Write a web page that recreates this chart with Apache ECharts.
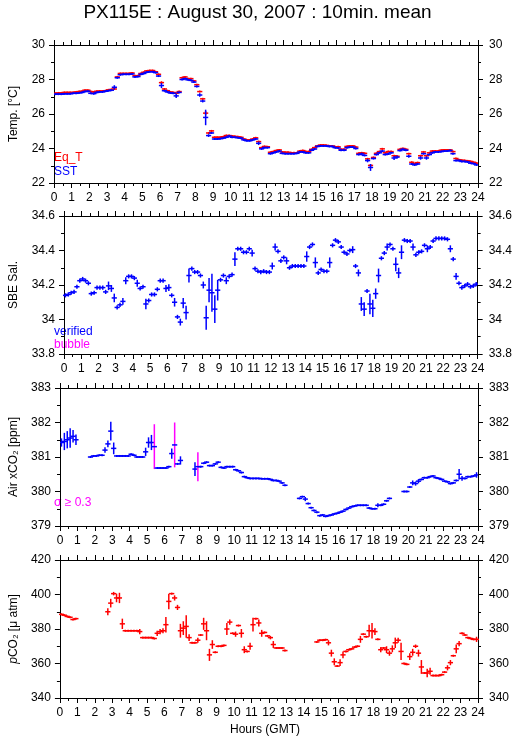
<!DOCTYPE html>
<html>
<head>
<meta charset="utf-8">
<script src="https://cdn.jsdelivr.net/npm/echarts@6/dist/echarts.min.js"></script>
<style>html,body{margin:0;padding:0;background:#fff}#c{width:515px;height:739px}</style>
</head>
<body>
<div id="c"></div>
<script>
// ---- data: 10-minute bins (144 per day) ----
const binMinutes = 10;
const hourTicks = [0,1,2,3,4,5,6,7,8,9,10,11,12,13,14,15,16,17,18,19,20,21,22,23,24];

const eqT = [
27.2,27.22,27.22,27.25,27.25,27.25,
27.25,27.28,27.3,27.32,27.38,27.38,
27.3,27.28,27.32,27.33,27.33,27.35,
27.4,27.42,27.45,28.15,28.35,28.35,
28.35,28.35,28.38,28.22,28.22,28.35,
28.42,28.5,28.52,28.52,28.45,28.3,
27.82,27.45,27.35,27.28,27.25,27.2,
27.3,28.1,28.15,28.05,28.05,27.92,
27.7,27.3,26.88,26.05,24.9,25.02,
24.65,24.65,24.65,24.68,24.75,24.75,
24.72,24.7,24.68,24.65,24.55,24.5,
24.5,24.55,24.62,24.4,24.05,24.12,
24.1,23.78,23.82,23.88,23.92,23.8,
23.78,23.78,23.75,23.75,23.75,23.85,
23.88,23.82,23.82,23.95,24.05,24.15,
24.2,24.2,24.18,24.15,24.15,24.1,
24.1,23.95,23.95,24.12,24.15,24.15,
24.08,23.72,23.75,23.72,23.4,23.02,
23.48,23.72,23.82,23.98,23.75,23.82,
23.82,23.58,23.55,23.95,24.0,23.95,
23.7,23.2,23.12,23.18,23.58,23.8,
23.58,23.75,23.85,23.85,23.85,23.9,
23.92,23.92,23.92,23.82,23.42,23.35,
23.32,23.3,23.28,23.25,23.2,23.15];
const eqTErrDefault = 0.03;
const eqTErr = {36:0.08, 51:0.12, 107:0.08};

const sst = [
27.15,27.15,27.15,27.17,27.17,27.17,
27.2,27.2,27.22,27.25,27.3,27.32,
27.2,27.18,27.25,27.28,27.28,27.32,
27.35,27.38,27.55,28.1,28.28,28.3,
28.3,28.3,28.32,28.15,28.17,28.3,
28.35,28.42,28.45,28.45,28.4,28.2,
27.65,27.35,27.28,27.22,27.2,27.05,
27.25,28.0,28.05,27.98,27.95,27.85,
27.6,27.1,26.75,25.8,24.75,24.9,
24.55,24.55,24.57,24.6,24.65,24.72,
24.65,24.65,24.62,24.6,24.5,24.45,
24.45,24.5,24.55,24.3,23.98,24.05,
24.05,23.7,23.75,23.8,23.85,23.72,
23.7,23.7,23.7,23.7,23.72,23.8,
23.8,23.75,23.75,23.9,23.97,24.12,
24.15,24.15,24.15,24.12,24.12,24.05,
24.03,23.9,23.9,24.05,24.08,24.08,
24.0,23.65,23.68,23.6,23.3,22.9,
23.42,23.65,23.75,23.85,23.65,23.68,
23.75,23.45,23.5,23.88,23.95,23.9,
23.55,23.1,23.05,23.1,23.45,23.7,
23.45,23.65,23.75,23.8,23.8,23.82,
23.85,23.85,23.88,23.7,23.3,23.3,
23.25,23.25,23.22,23.15,23.12,23.05];
const sstErrDefault = 0.05;
const sstErr = {20:0.12, 36:0.15, 41:0.12, 43:0.06, 49:0.1, 50:0.08, 51:0.45, 52:0.08, 69:0.1,
  104:0.08, 106:0.1, 107:0.2, 115:0.12, 116:0.1, 120:0.08, 124:0.1, 126:0.1};

const sal = [
34.14,34.145,34.155,34.16,34.19,34.225,
34.235,34.225,34.21,34.15,34.155,34.185,
34.185,34.185,34.16,34.195,34.18,34.125,
34.07,34.085,34.105,34.225,34.25,34.25,
34.24,34.21,34.18,34.19,34.09,34.11,
34.145,34.145,34.175,34.225,34.225,34.18,
34.185,34.14,34.1,34.015,33.985,34.095,
34.04,34.255,34.295,34.275,34.275,34.255,
34.2,34.01,34.17,34.155,34.06,34.17,
34.23,34.255,34.225,34.25,34.26,34.35,
34.41,34.41,34.39,34.39,34.41,34.385,
34.295,34.28,34.275,34.28,34.275,34.275,
34.31,34.42,34.395,34.34,34.36,34.34,
34.3,34.31,34.31,34.31,34.31,34.31,
34.365,34.42,34.435,34.33,34.27,34.29,
34.28,34.28,34.33,34.43,34.46,34.45,
34.42,34.39,34.38,34.40,34.405,34.31,
34.27,34.09,34.06,34.165,34.09,34.065,
34.15,34.255,34.355,34.385,34.42,34.435,
34.41,34.32,34.27,34.39,34.46,34.455,
34.455,34.42,34.375,34.39,34.395,34.43,
34.41,34.42,34.455,34.47,34.47,34.47,
34.47,34.465,34.41,34.35,34.25,34.21,
34.185,34.195,34.205,34.19,34.195,34.205];
const salErrDefault = 0.012;
const salErr = {15:0.025,16:0.02,17:0.025,20:0.02,21:0.02,25:0.02,28:0.03,35:0.02,36:0.02,38:0.025,
  40:0.02,41:0.03,42:0.04,43:0.04,48:0.02,49:0.07,50:0.07,51:0.11,52:0.08,53:0.06,56:0.02,59:0.04,
  65:0.02,72:0.02,73:0.02,77:0.02,84:0.03,87:0.03,92:0.03,100:0.02,102:0.02,103:0.04,104:0.04,
  106:0.06,107:0.05,108:0.03,109:0.04,112:0.02,115:0.04,116:0.03,117:0.04,121:0.02,126:0.02,
  134:0.02,136:0.02};

const airX = [
381.42,381.45,381.5,381.55,381.6,381.5,
null,null,null,null,381.0,381.03,
381.03,381.05,381.05,381.2,381.38,381.75,
381.25,381.03,381.03,381.03,381.03,381.03,
381.08,381.05,381.0,381.0,381.0,381.15,
381.42,381.42,381.3,380.68,380.68,380.68,
380.68,380.72,381.1,381.35,380.8,380.9,
null,null,null,null,380.65,380.72,
380.72,380.82,380.85,380.75,380.75,380.8,
380.85,380.7,380.68,380.72,380.72,380.72,
380.63,380.6,380.55,380.43,380.4,380.38,
380.38,380.38,380.38,380.37,380.37,380.37,
380.35,380.32,380.32,380.3,380.25,380.18,
null,null,null,null,379.8,379.85,
379.78,379.65,379.53,379.45,379.4,379.3,
379.32,379.28,379.3,379.32,379.35,379.37,
379.4,379.43,379.48,379.52,379.56,379.58,
379.6,379.6,379.6,379.6,379.52,379.5,
379.5,379.6,379.6,379.63,379.73,379.8,
null,null,null,null,380.0,380.0,
380.13,380.25,380.23,380.3,380.35,380.4,
380.4,380.43,380.45,380.4,380.38,380.35,
380.3,380.28,380.23,380.25,380.32,380.5,
380.38,380.38,380.43,380.43,380.45,380.48];
const airErrDefault = 0.025;
const airErr = {0:0.12,1:0.25,2:0.25,3:0.28,4:0.18,5:0.15,15:0.08,16:0.1,17:0.27,18:0.17,29:0.12,
  30:0.15,31:0.22,32:0.65,38:0.15,39:0.65,41:0.12,46:0.2,47:0.42,84:0.06,109:0.06,121:0.07,
  122:0.06,123:0.06,137:0.15,138:0.07,143:0.08};
const sigmaLimit = 0.3;

const pco2 = [
388.5,388,387.3,386.8,385.5,386,
null,null,null,null,null,null,
null,null,null,null,390,395,
400.5,398,398,383,379,379,
379,379,379,378.5,375,375,
375,375,374.5,377.5,378.5,379,
382.5,396,400.5,398,392.5,379,
380.5,381.5,375,372,372,373.5,
376.5,383,379,365,371,366.5,
370,370,370.5,380,384,377.5,
377,382,377.5,368,367,370,
382.5,386,383.5,377.5,378,376,
375,371,369,369,369,367.5,
null,null,null,null,null,null,
null,null,null,null,372.5,373.5,
373.5,373.8,372,366,361,358.5,
360.5,365,367,368,368.5,369.5,
370,374,377,375.5,379,379,
378.5,374,368,369,368,366,
368.5,372,373.5,367,360,359.5,
364,366.5,370,366,358,354.5,
354.5,355.5,353,353,353,353.5,
355,357.5,360.5,364.5,368.5,371.5,
377.5,376.5,375,374.5,374,374];
const pco2ErrDefault = 0.5;
const pco2Err = {16:2,17:2.5,18:1,19:2.5,20:3,21:3,27:1.5,33:1.5,34:1.5,35:1.5,36:4.5,37:4.5,39:1.5,
  40:1.5,41:4,42:4,43:6.5,44:2,47:1.5,49:3.5,50:5.5,51:3.5,52:2.5,57:3.5,58:1.5,60:1.5,62:2.5,63:2,
  65:2,66:4,68:2,69:2,72:1,73:2,92:1.5,93:2,94:2,96:2,97:2,103:2,106:3.5,107:4.5,108:2,110:1.5,
  112:2,113:1.5,114:2,115:3,116:1.5,117:5,120:2,121:2,122:1,123:2,124:4,126:2.5,127:2,133:1.5,
  134:1.5,136:2.5,137:1.5,143:1.5};

// ---- build ----
const FONT = '"Liberation Sans", Arial, Helvetica, sans-serif';
const binH = binMinutes / 60;
const MARK_HALF = 2.6;   // half width of the "+" marker in px
const MIN_HALF_V = 1;    // minimal half height of the vertical stroke in px
const LW = 1.5;

function toData(vals, errs, def) {
  const out = [];
  vals.forEach((v, i) => {
    if (v === null) return;
    const e = (errs[i] !== undefined) ? errs[i] : def;
    out.push([(i + 0.5) * binH, v, e]);
  });
  return out;
}

function renderer(hColor, vColorFn) {
  return function (params, api) {
    const x = api.value(0), y = api.value(1), e = api.value(2);
    const c = api.coord([x, y]);
    const t = api.coord([x, y + e]);
    const u = api.coord([x, y - e]);
    let y1 = Math.min(t[1], c[1] - MIN_HALF_V);
    let y2 = Math.max(u[1], c[1] + MIN_HALF_V);
    return {
      type: 'group',
      children: [
        { type: 'line', shape: { x1: c[0], y1: y1, x2: c[0], y2: y2 },
          style: { stroke: vColorFn(e), lineWidth: LW } },
        { type: 'line', shape: { x1: c[0] - MARK_HALF, y1: c[1], x2: c[0] + MARK_HALF, y2: c[1] },
          style: { stroke: hColor, lineWidth: LW } }
      ]
    };
  };
}

const tops = [45, 216, 388, 560];
const H = 138;
const grids = tops.map(t => ({ left: 51, right: 37, top: t, height: H }));

const black = { color: '#000', width: 1 };
function xPair(g) {
  const base = {
    type: 'value', gridIndex: g, min: 0, max: 24, interval: 1,
    axisLine: { show: true, onZero: false, lineStyle: black },
    axisTick: { show: true, length: 5, lineStyle: black },
    minorTick: { show: true, splitNumber: 2, length: 3, lineStyle: black },
    splitLine: { show: false }
  };
  return [
    Object.assign({}, base, { position: 'bottom',
      axisLabel: { show: true, margin: 9, fontSize: 12, color: '#000', fontFamily: FONT,
        formatter: v => hourTicks.includes(v) ? String(v) : '' } }),
    Object.assign({}, base, { position: 'top', axisLabel: { show: false } })
  ];
}
function yPair(g, min, max, interval, name, nameGap, rich) {
  const base = {
    type: 'value', gridIndex: g, min: min, max: max, interval: interval,
    axisLine: { show: true, onZero: false, lineStyle: black },
    axisTick: { show: true, length: 5, lineStyle: black },
    minorTick: { show: true, splitNumber: 2, length: 3, lineStyle: black },
    splitLine: { show: false }
  };
  return [
    Object.assign({}, base, { position: 'left', name: name, nameLocation: 'middle', nameGap: nameGap,
      nameRotate: 90,
      nameTextStyle: { fontSize: 12, color: '#000', fontFamily: FONT, rich: rich || {} },
      axisLabel: { margin: 9, fontSize: 12, color: '#000', fontFamily: FONT } }),
    Object.assign({}, base, { position: 'right',
      axisLabel: { margin: 11, fontSize: 12, color: '#000', fontFamily: FONT } })
  ];
}

const xAxis = [].concat(xPair(0), xPair(1), xPair(2), xPair(3));
const yAxis = [].concat(
  yPair(0, 22, 30, 2, 'Temp. [°C]', 34),
  yPair(1, 33.8, 34.6, 0.2, 'SBE Sal.', 44),
  yPair(2, 379, 383, 1, 'Air xCO₂ [ppm]', 40),
  yPair(3, 340, 420, 20, '{i|p}CO₂ [μ atm]', 39,
    { i: { fontStyle: 'italic', fontSize: 12, fontFamily: FONT, color: '#000' } })
);

const RED = '#ff0000', BLUE = '#0000ff', MAG = '#ff00ff';
function series(g, data, hColor, vColorFn) {
  return { type: 'custom', xAxisIndex: 2 * g, yAxisIndex: 2 * g, data: data,
    encode: { x: 0, y: 1 }, renderItem: renderer(hColor, vColorFn), clip: true, silent: true };
}

const option = {
  animation: false,
  backgroundColor: '#fff',
  title: { text: 'PX115E : August 30, 2007 : 10min. mean', left: 'center', top: -2,
    textStyle: { fontSize: 19, fontWeight: 'normal', color: '#000', fontFamily: FONT } },
  grid: grids,
  xAxis: xAxis,
  yAxis: yAxis,
  series: [
    series(0, toData(eqT, eqTErr, eqTErrDefault), RED, () => RED),
    series(0, toData(sst, sstErr, sstErrDefault), BLUE, () => BLUE),
    series(1, toData(sal, salErr, salErrDefault), BLUE, () => BLUE),
    series(2, toData(airX, airErr, airErrDefault), BLUE, e => e >= sigmaLimit ? MAG : BLUE),
    series(3, toData(pco2, pco2Err, pco2ErrDefault), RED, () => RED)
  ],
  graphic: [
    { type: 'text', left: 54, top: 152, style: { text: 'Eq_T', fill: RED, font: '12px ' + FONT } },
    { type: 'text', left: 54, top: 166, style: { text: 'SST', fill: BLUE, font: '12px ' + FONT } },
    { type: 'text', left: 54, top: 326, style: { text: 'verified', fill: BLUE, font: '12px ' + FONT } },
    { type: 'text', left: 54, top: 339, style: { text: 'bubble', fill: MAG, font: '12px ' + FONT } },
    { type: 'text', left: 54, top: 497, style: { text: 'σ ≥ 0.3', fill: MAG, font: '12px ' + FONT } },
    { type: 'text', left: 230, top: 724, style: { text: 'Hours (GMT)', fill: '#000', font: '12px ' + FONT } }
  ]
};

const chart = echarts.init(document.getElementById('c'), null, { renderer: 'canvas' });
chart.setOption(option);
</script>
</body>
</html>
